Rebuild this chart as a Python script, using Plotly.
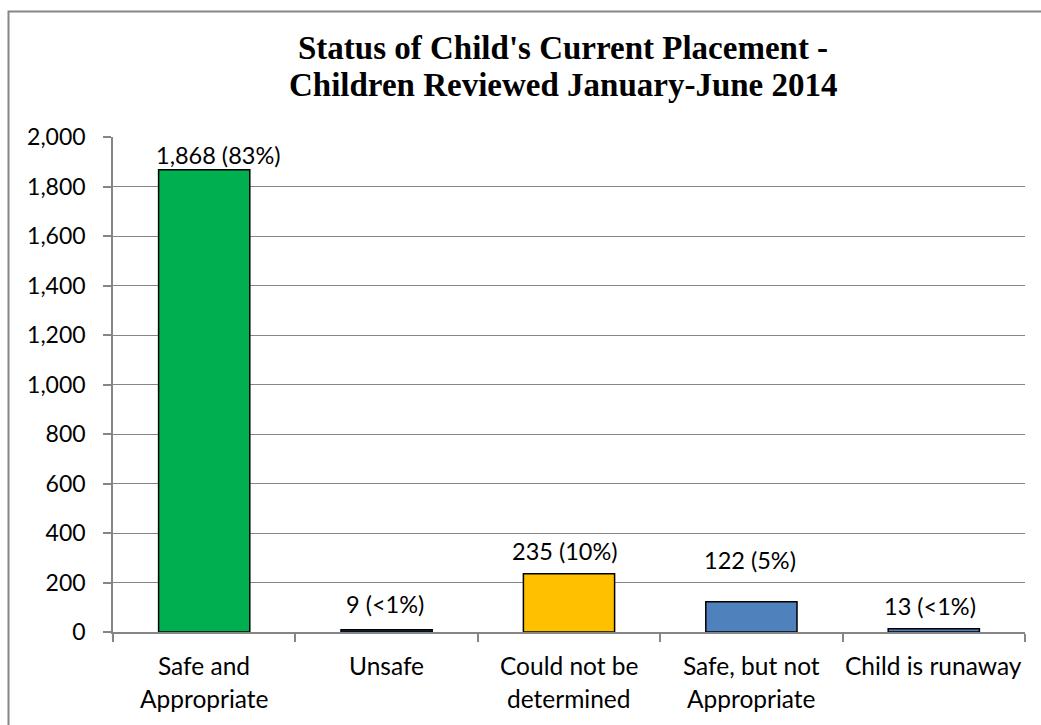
import plotly.graph_objects as go

categories = ["Safe and Appropriate", "Unsafe", "Could not be determined",
              "Safe, but not Appropriate", "Child is runaway"]
label_line1 = ["Safe and", "Unsafe", "Could not be", "Safe, but not", "Child is runaway"]
label_line2 = ["Appropriate", "", "determined", "Appropriate", ""]
values = [1868, 9, 235, 122, 13]
value_labels = ["1,868 (83%)", "9 (<1%)", "235 (10%)", "122 (5%)", "13 (<1%)"]
bar_colors = ["#00B050", "#1F3A60", "#FFC000", "#4F81BD", "#4F81BD"]
label_yoffsets = [15, 26, 23, 42, 23]
label_xoffsets = [14, -2, -4, -1, -4]
y_ticks = [0, 200, 400, 600, 800, 1000, 1200, 1400, 1600, 1800, 2000]
title_lines = ["Status of Child's Current Placement -", "Children Reviewed January-June 2014"]

W, H = 1041, 725
ML, MR, MT, MB = 113, 16, 137, 93
PW, PH = W - ML - MR, H - MT - MB
FONT = "Lato, 'Open Sans', sans-serif"
SERIF = "'Liberation Serif', 'Times New Roman', serif"

def px_x(p):
    return (p - ML) / PW

def px_y(p):
    return (H - MB - p) / PH

fig = go.Figure()
fig.add_trace(go.Bar(
    x=categories, y=values,
    marker=dict(color=bar_colors, line=dict(color="#000000", width=1.5)),
    width=0.5, hoverinfo="skip",
))

annotations = []
for c, v, t, yo, xo in zip(categories, values, value_labels, label_yoffsets, label_xoffsets):
    annotations.append(dict(x=c, y=v, xref="x", yref="y", text=t, showarrow=False,
                            yshift=yo, xshift=xo, xanchor="center", yanchor="middle",
                            font=dict(family=FONT, size=23.5, color="#000000")))
for c, l1, l2 in zip(categories, label_line1, label_line2):
    annotations.append(dict(x=c, y=px_y(665), xref="x", yref="paper", text=l1, showarrow=False,
                            xanchor="center", yanchor="middle",
                            font=dict(family=FONT, size=24.5, color="#000000")))
    if l2:
        annotations.append(dict(x=c, y=px_y(698), xref="x", yref="paper", text=l2, showarrow=False,
                                xanchor="center", yanchor="middle",
                                font=dict(family=FONT, size=24.5, color="#000000")))
for line, py in zip(title_lines, [48, 85]):
    annotations.append(dict(x=px_x(563), y=px_y(py), xref="paper", yref="paper",
                            text="<b>" + line + "</b>", showarrow=False,
                            xanchor="center", yanchor="middle",
                            font=dict(family=SERIF, size=33, color="#000000")))

fig.update_layout(
    width=W, height=H,
    margin=dict(l=ML, r=MR, t=MT, b=MB, pad=0),
    paper_bgcolor="white", plot_bgcolor="white",
    showlegend=False,
    annotations=annotations,
    shapes=[dict(type="rect", xref="paper", yref="paper",
                 x0=px_x(8.5), y0=px_y(740), x1=px_x(1060), y1=px_y(11.5),
                 line=dict(color="#868686", width=2), fillcolor="rgba(0,0,0,0)", layer="below")],
)
fig.update_xaxes(
    type="category", showticklabels=False, showgrid=False,
    showline=True, linecolor="#868686", linewidth=1.5,
    ticks="outside", tickson="boundaries", ticklen=8, tickcolor="#868686", tickwidth=1.5,
)
fig.update_yaxes(
    range=[0, 2000], tickvals=y_ticks, tickformat=",d",
    showgrid=True, gridcolor="#868686", gridwidth=1.2,
    showline=True, linecolor="#868686", linewidth=1.5,
    ticks="outside", ticklen=8, tickcolor="#868686", tickwidth=1.5,
    ticklabelstandoff=13,
    tickfont=dict(family=FONT, size=23, color="#000000"),
    zeroline=False,
)

fig.write_html("out.html", config={"displayModeBar": False},
               post_script="document.body.style.margin='0';")
